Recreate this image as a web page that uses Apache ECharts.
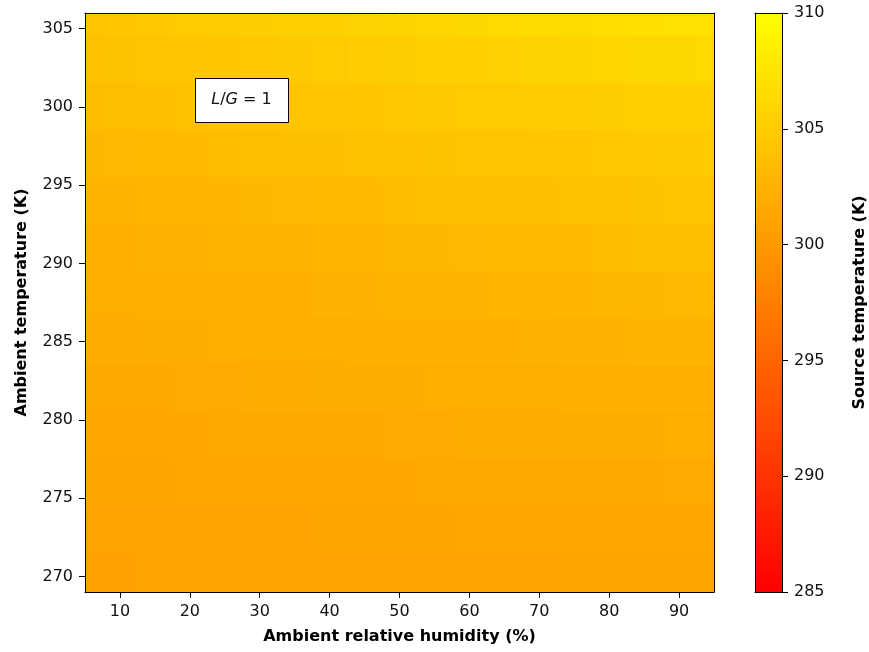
<!DOCTYPE html>
<html>
<head>
<meta charset="utf-8">
<script src="https://cdn.jsdelivr.net/npm/echarts@6/dist/echarts.min.js"></script>
<style>html,body{margin:0;padding:0;background:#fff;}#c{width:869px;height:652px;}</style>
</head>
<body>
<div id="c"></div>
<script>
// Ambient relative humidity (%) cell centres
const humidity = [5,10,15,20,25,30,35,40,45,50,55,60,65,70,75,80,85,90,95];
// Ambient temperature (K) cell centres
const ambientT = [306,303,300,297,294,291,288,285,282,279,276,273,270];
// Source temperature (K), one row per ambientT, one column per humidity
const sourceT = [
  [304.2,304.4,304.6,304.8,305.0,305.2,305.35,305.5,305.7,305.85,306.0,306.15,306.3,306.45,306.6,306.7,306.85,307.0,307.1],
  [303.8,304.0,304.15,304.3,304.45,304.6,304.75,304.9,305.05,305.2,305.35,305.5,305.6,305.75,305.85,305.95,306.05,306.2,306.3],
  [303.4,303.55,303.7,303.8,303.95,304.05,304.2,304.3,304.45,304.55,304.7,304.8,304.9,305.0,305.1,305.2,305.3,305.4,305.5],
  [303.0,303.1,303.2,303.3,303.4,303.5,303.6,303.7,303.8,303.9,304.0,304.1,304.2,304.3,304.4,304.5,304.6,304.7,304.85],
  [302.6,302.7,302.8,302.9,302.95,303.05,303.15,303.2,303.3,303.4,303.5,303.55,303.65,303.75,303.85,303.95,304.05,304.15,304.25],
  [302.3,302.4,302.45,302.55,302.6,302.7,302.75,302.85,302.9,303.0,303.05,303.15,303.2,303.3,303.35,303.45,303.5,303.6,303.7],
  [302.0,302.05,302.15,302.2,302.25,302.35,302.4,302.45,302.55,302.6,302.65,302.75,302.8,302.85,302.95,303.0,303.05,303.15,303.2],
  [301.75,301.8,301.85,301.9,301.95,302.0,302.05,302.1,302.2,302.25,302.3,302.35,302.4,302.45,302.5,302.55,302.6,302.7,302.75],
  [301.5,301.55,301.6,301.65,301.7,301.75,301.8,301.85,301.85,301.9,301.95,302.0,302.05,302.1,302.15,302.2,302.25,302.3,302.35],
  [301.3,301.35,301.4,301.4,301.45,301.5,301.55,301.55,301.6,301.65,301.7,301.75,301.75,301.8,301.85,301.9,301.9,301.95,302.0],
  [301.15,301.2,301.2,301.25,301.25,301.3,301.3,301.35,301.4,301.4,301.45,301.45,301.5,301.5,301.55,301.6,301.6,301.65,301.7],
  [301.0,301.0,301.05,301.05,301.1,301.1,301.1,301.15,301.15,301.2,301.2,301.25,301.25,301.3,301.3,301.3,301.35,301.35,301.4],
  [300.9,300.9,300.95,300.95,300.95,301.0,301.0,301.0,301.05,301.05,301.05,301.1,301.1,301.1,301.15,301.15,301.15,301.2,301.2]
];
const xTicks = [10,20,30,40,50,60,70,80,90];
const yTicks = [270,275,280,285,290,295,300,305];
const xRange = [5, 95];
const yRange = [269, 306];
const cbarRange = [285, 310];
const cmapColors = ['#ff0000', '#ffff00']; // autumn colormap ends

const cellData = [];
ambientT.forEach((t, i) => humidity.forEach((h, j) => cellData.push([h, t, sourceT[i][j]])));
const dx = humidity[1] - humidity[0];
const dy = ambientT[0] - ambientT[1];

const FONT = 'DejaVu Sans';
const labelStyle = {fontFamily: FONT, fontSize: 16, color: '#111'};
const nameStyle = {fontFamily: FONT, fontSize: 16, fontWeight: 'bold', color: '#000'};
const lineOnly = {
  axisLine: {show: true, onZero: false, lineStyle: {color: '#000', width: 1}},
  axisTick: {show: false}, axisLabel: {show: false}, splitLine: {show: false}, z: 10
};

const chart = echarts.init(document.getElementById('c'), null, {renderer: 'canvas'});
chart.setOption({
  animation: false,
  backgroundColor: '#fff',
  grid: [
    {left: 85, top: 13, width: 629, height: 579, containLabel: false, outerBoundsMode: 'none'},
    {left: 755, top: 13, width: 27, height: 579, containLabel: false, outerBoundsMode: 'none'}
  ],
  visualMap: {
    type: 'continuous', show: false, min: cbarRange[0], max: cbarRange[1],
    dimension: 2, seriesIndex: 0, inRange: {color: cmapColors}
  },
  xAxis: [
    {
      type: 'value', gridIndex: 0, min: xRange[0], max: xRange[1], position: 'bottom', z: 10,
      name: 'Ambient relative humidity (%)', nameLocation: 'middle', nameGap: 37, nameTextStyle: nameStyle,
      axisLine: {show: true, onZero: false, lineStyle: {color: '#000', width: 1}},
      axisTick: {show: true, inside: false, length: 6, lineStyle: {color: '#000'}, customValues: xTicks},
      axisLabel: Object.assign({margin: 12, customValues: xTicks}, labelStyle),
      splitLine: {show: false}
    },
    Object.assign({type: 'value', gridIndex: 0, min: xRange[0], max: xRange[1], position: 'top'}, lineOnly),
    Object.assign({type: 'value', gridIndex: 1, min: 0, max: 1, position: 'bottom'}, lineOnly),
    Object.assign({type: 'value', gridIndex: 1, min: 0, max: 1, position: 'top'}, lineOnly)
  ],
  yAxis: [
    {
      type: 'value', gridIndex: 0, min: yRange[0], max: yRange[1], position: 'left', z: 10,
      name: 'Ambient temperature (K)', nameLocation: 'middle', nameGap: 55, nameRotate: 90, nameTextStyle: nameStyle,
      axisLine: {show: true, onZero: false, lineStyle: {color: '#000', width: 1}},
      axisTick: {show: true, inside: false, length: 6, lineStyle: {color: '#000'}, customValues: yTicks},
      axisLabel: Object.assign({margin: 12, customValues: yTicks}, labelStyle),
      splitLine: {show: false}
    },
    Object.assign({type: 'value', gridIndex: 0, min: yRange[0], max: yRange[1], position: 'right'}, lineOnly),
    {
      type: 'value', gridIndex: 1, min: cbarRange[0], max: cbarRange[1], interval: 5, position: 'right', z: 10,
      name: 'Source temperature (K)', nameLocation: 'middle', nameGap: 70, nameRotate: 90, nameTextStyle: nameStyle,
      axisLine: {show: true, onZero: false, lineStyle: {color: '#000', width: 1}},
      axisTick: {show: true, inside: false, length: 6, lineStyle: {color: '#000'}},
      axisLabel: Object.assign({margin: 12}, labelStyle),
      splitLine: {show: false}
    },
    Object.assign({type: 'value', gridIndex: 1, min: cbarRange[0], max: cbarRange[1], position: 'left'}, lineOnly)
  ],
  series: [
    {
      type: 'custom', xAxisIndex: 0, yAxisIndex: 0, data: cellData, clip: true,
      encode: {x: 0, y: 1},
      renderItem: function (params, api) {
        const x = api.value(0), y = api.value(1);
        const p0 = api.coord([x - dx / 2, y + dy / 2]);
        const p1 = api.coord([x + dx / 2, y - dy / 2]);
        const cs = params.coordSys;
        const x0 = Math.round(Math.max(p0[0], cs.x)), x1 = Math.round(Math.min(p1[0], cs.x + cs.width));
        const y0 = Math.round(Math.max(p0[1], cs.y)), y1 = Math.round(Math.min(p1[1], cs.y + cs.height));
        if (x1 <= x0 || y1 <= y0) return null;
        return {type: 'rect', shape: {x: x0, y: y0, width: x1 - x0, height: y1 - y0},
          style: {fill: api.visual('color'), stroke: null}};
      }
    },
    {
      type: 'custom', xAxisIndex: 2, yAxisIndex: 2, data: [[0, cbarRange[0], cbarRange[1]]],
      renderItem: function (params, api) {
        const p0 = api.coord([0, api.value(2)]);
        const p1 = api.coord([1, api.value(1)]);
        return {
          type: 'rect',
          shape: {x: p0[0], y: p0[1], width: p1[0] - p0[0], height: p1[1] - p0[1]},
          style: {fill: new echarts.graphic.LinearGradient(0, 0, 0, 1, [
            {offset: 0, color: cmapColors[1]}, {offset: 1, color: cmapColors[0]}])}
        };
      }
    }
  ],
  graphic: [
    {
      type: 'rect', left: 195, top: 78, z: 20,
      shape: {width: 93, height: 44},
      style: {fill: '#fff', stroke: '#000', lineWidth: 1}
    },
    {
      type: 'text', z: 21, x: 241.5, y: 100,
      style: {
        text: '{i|L}/{i|G} = 1', align: 'center', verticalAlign: 'middle',
        fontFamily: FONT, fontSize: 16, fill: '#111',
        rich: {i: {fontFamily: FONT, fontSize: 16, fontStyle: 'italic', fill: '#111'}}
      }
    }
  ]
});
</script>
</body>
</html>
